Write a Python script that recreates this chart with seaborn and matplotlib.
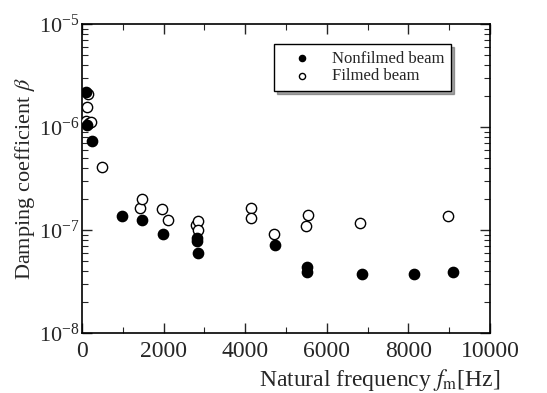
import numpy as np
import matplotlib

matplotlib.use('Agg')
import matplotlib.pyplot as plt
import matplotlib.ticker as mticker
import pandas as pd
import seaborn as sns

# Damping coefficient vs natural frequency
freq_nonfilmed = [90, 130, 240, 990, 1480, 1980, 2810, 2810, 2850, 4720,
                  5520, 5520, 6870, 8140, 9090]
beta_nonfilmed = [2.2e-6, 1.05e-6, 7.3e-7, 1.35e-7, 1.25e-7, 9.1e-8, 8.3e-8, 7.8e-8,
                  6.0e-8, 7.15e-8, 4.4e-8, 3.94e-8, 3.71e-8, 3.71e-8, 3.91e-8]

freq_filmed = [150, 120, 100, 170, 230, 500, 1430, 1470, 1950, 2110, 2790, 2830,
               2830, 4130, 4150, 4710, 5500, 5530, 6820, 8970]
beta_filmed = [2.09e-6, 1.57e-6, 1.15e-6, 1.1e-6, 1.12e-6, 4.1e-7, 1.65e-7, 2.01e-7,
               1.61e-7, 1.25e-7, 1.11e-7, 1.21e-7, 9.9e-8, 1.65e-7, 1.31e-7, 9.1e-8,
               1.09e-7, 1.39e-7, 1.16e-7, 1.35e-7]

sns.set_style('ticks')
plt.rcParams['font.family'] = ['Liberation Serif', 'DejaVu Serif']
plt.rcParams['mathtext.fontset'] = 'stix'

df_nf = pd.DataFrame({'f': freq_nonfilmed, 'beta': beta_nonfilmed})
df_f = pd.DataFrame({'f': freq_filmed, 'beta': beta_filmed})

fig = plt.figure(figsize=(5.47, 3.93), dpi=100)
ax = fig.add_axes([0.15, 0.153, 0.746, 0.786])

sns.scatterplot(data=df_f, x='f', y='beta', ax=ax, marker='o', s=55,
                facecolor='white', edgecolor='black', linewidth=1.0,
                label='Filmed beam', zorder=3)
sns.scatterplot(data=df_nf, x='f', y='beta', ax=ax, marker='o', s=55,
                color='black', edgecolor='black', linewidth=1.0,
                label='Nonfilmed beam', zorder=4)

ax.set_yscale('log')
ax.set_xlim(0, 10000)
ax.set_ylim(1e-8, 1e-5)
ax.xaxis.set_major_locator(mticker.MultipleLocator(2000))
ax.xaxis.set_minor_locator(mticker.MultipleLocator(1000))
ax.yaxis.set_major_locator(mticker.LogLocator(base=10, numticks=10))
ax.yaxis.set_minor_locator(mticker.LogLocator(base=10, subs=np.arange(2, 10), numticks=10))
ax.yaxis.set_minor_formatter(mticker.NullFormatter())

ax.tick_params(which='both', direction='in', top=True, right=True)
ax.tick_params(which='major', length=7, width=1)
ax.tick_params(which='minor', length=4, width=0.8)
ax.tick_params(axis='x', which='major', pad=6, labelsize=17)
ax.tick_params(axis='y', which='major', pad=2, labelsize=16)
for sp in ax.spines.values():
    sp.set_visible(True)
    sp.set_linewidth(1.2)
    sp.set_color('black')

ax.set_xlabel(r'Natural frequency $f_\mathrm{m}$[Hz]', fontsize=17, ha='right')
ax.xaxis.set_label_coords(1.025, -0.11)
ax.set_ylabel(r'Damping coefficient $\beta$', fontsize=16)
ax.yaxis.set_label_coords(-0.11, 0.5)

handles, labels = ax.get_legend_handles_labels()
order = [labels.index('Nonfilmed beam'), labels.index('Filmed beam')]
leg = ax.legend([handles[i] for i in order], [labels[i] for i in order],
                loc='upper right', bbox_to_anchor=(0.905, 0.935), fontsize=12,
                markerscale=0.6, frameon=True, fancybox=False, shadow=True,
                edgecolor='black', borderpad=0.4, handletextpad=0.5,
                handlelength=2.6, labelspacing=0.1, borderaxespad=0)
leg.get_frame().set_linewidth(1.0)

fig.savefig('out.png', dpi=100)
